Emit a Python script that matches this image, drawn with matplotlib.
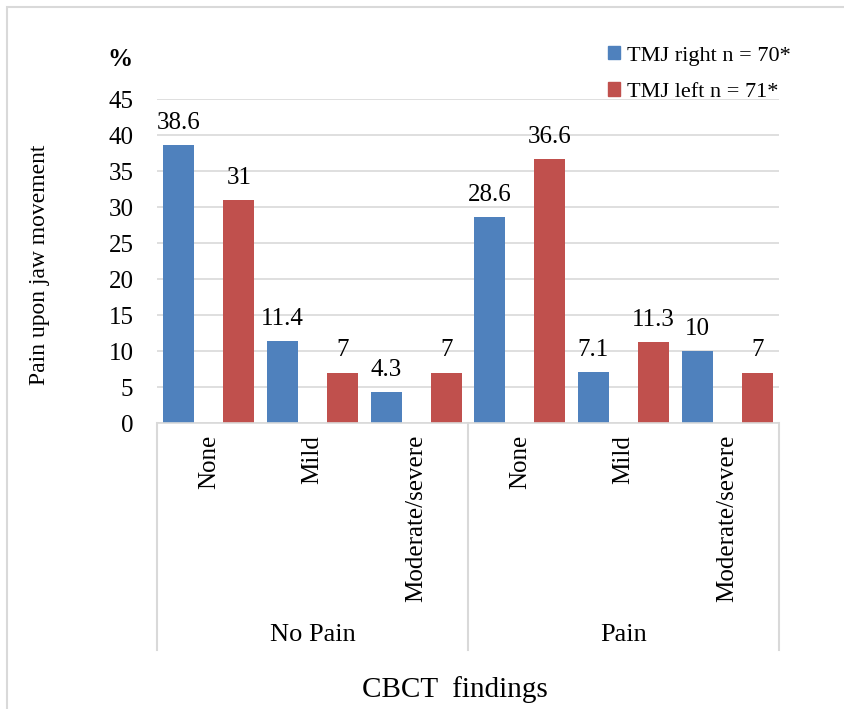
import matplotlib.pyplot as plt
from matplotlib.patches import Rectangle, Patch
import numpy as np

groups = ["No Pain", "Pain"]
findings = ["None", "Mild", "Moderate/severe"]
right_vals = [38.6, 11.4, 4.3, 28.6, 7.1, 10.0]
left_vals = [31, 7, 7, 36.6, 11.3, 7]
right_lbls = ["38.6", "11.4", "4.3", "28.6", "7.1", "10"]
left_lbls = ["31", "7", "7", "36.6", "11.3", "7"]
series_names = ["TMJ right n = 70*", "TMJ left n = 71*"]

blue, red = "#4f81bd", "#c0504d"
grid_c = "#d9d9d9"
plt.rcParams["font.family"] = ["Liberation Serif", "DejaVu Serif"]

W, H = 844, 709
fig = plt.figure(figsize=(W / 100, H / 100), dpi=100)
ax = fig.add_axes([157 / W, 1 - 423 / H, (779 - 157) / W, (423 - 99) / H])

x = np.arange(len(right_vals))
w, off = 0.30, 0.29
b1 = ax.bar(x - off, right_vals, w, color=blue, zorder=3)
b2 = ax.bar(x + off, left_vals, w, color=red, zorder=3)
for bars, lbls in ((b1, right_lbls), (b2, left_lbls)):
    for r, t in zip(bars, lbls):
        ax.annotate(t, (r.get_x() + r.get_width() / 2, r.get_height()),
                    xytext=(0, 8), textcoords="offset points",
                    ha="center", va="bottom", fontsize=18)

ax.set_xlim(-0.5, len(x) - 0.5)
ax.set_ylim(0, 45)
ax.set_yticks(range(0, 46, 5))
ax.tick_params(axis="y", length=0, labelsize=18, pad=17)
ax.set_xticks([])
ax.yaxis.grid(True, color=grid_c, lw=1.2, zorder=0)
for s in ax.spines.values():
    s.set_visible(False)

# category axis box
trans = ax.get_xaxis_transform()
ax.plot([-0.5, 5.5], [0, 0], color=grid_c, lw=1.2, transform=trans, clip_on=False, zorder=4)
sep_bottom = -(650 - 423) / (423 - 99)
for xs in (-0.5, 2.5, 5.5):
    ax.plot([xs, xs], [0, sep_bottom], color=grid_c, lw=1.5, transform=trans, clip_on=False)
for i in x:
    ax.text(i, -12 / (423 - 99), findings[i % 3], rotation=90, ha="center", va="top",
            fontsize=18, transform=trans)
for g, name in enumerate(groups):
    ax.text(3 * g + 1, -(635 - 423) / (423 - 99), name, ha="center", va="center",
            fontsize=19, transform=trans)

fig.text(40 / W, 1 - 265 / H, "Pain upon jaw movement", rotation=90,
         ha="center", va="center", fontsize=17)
fig.text(120 / W, 1 - 60 / H, "%", ha="center", va="center", fontsize=18, fontweight="bold")
fig.text(455 / W, 1 - 690 / H, "CBCT  findings", ha="center", va="center", fontsize=21)

handles = [Patch(color=blue), Patch(color=red)]
fig.legend(handles, series_names, loc="upper left", bbox_to_anchor=(588 / W, 1 - 26 / H),
           frameon=False, fontsize=16, handlelength=0.55, handleheight=0.55,
           handletextpad=0.3, labelspacing=0.75)

fig.patches.append(Rectangle((7 / W, -0.1), 1.2, 1.1 - 7 / H, transform=fig.transFigure,
                             fill=False, edgecolor=grid_c, lw=1.5))

fig.savefig("out.png", dpi=100)
